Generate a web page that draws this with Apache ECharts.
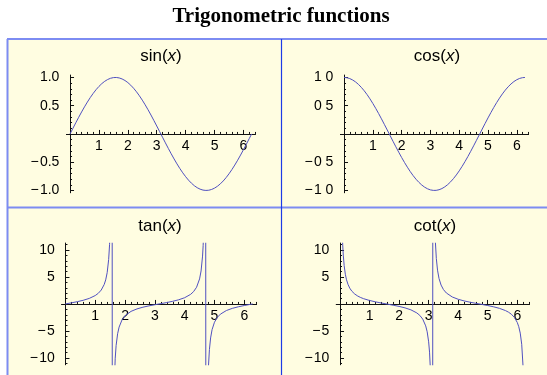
<!DOCTYPE html>
<html>
<head>
<meta charset="utf-8">
<script src="https://cdn.jsdelivr.net/npm/echarts@6/dist/echarts.min.js"></script>
<style>
html,body{margin:0;padding:0;background:#fff;}
#main{width:547px;height:375px;}
</style>
</head>
<body>
<div id="main"></div>
<script>
// sin / cos sampled on 0..2pi
var trigX = [0,0.1,0.2,0.3,0.4,0.5,0.6,0.7,0.8,0.9,1.0,1.1,1.2,1.3,1.4,1.5,1.6,1.7,1.8,1.9,2.0,2.1,2.2,2.3,2.4,2.5,2.6,2.7,2.8,2.9,3.0,3.1,3.2,3.3,3.4,3.5,3.6,3.7,3.8,3.9,4.0,4.1,4.2,4.3,4.4,4.5,4.6,4.7,4.8,4.9,5.0,5.1,5.2,5.3,5.4,5.5,5.6,5.7,5.8,5.9,6.0,6.1,6.2,6.2832];
var sinY = [0,0.0998,0.1987,0.2955,0.3894,0.4794,0.5646,0.6442,0.7174,0.7833,0.8415,0.8912,0.9320,0.9636,0.9854,0.9975,0.9996,0.9917,0.9738,0.9463,0.9093,0.8632,0.8085,0.7457,0.6755,0.5985,0.5155,0.4274,0.3350,0.2392,0.1411,0.0416,-0.0584,-0.1577,-0.2555,-0.3508,-0.4425,-0.5298,-0.6119,-0.6878,-0.7568,-0.8183,-0.8716,-0.9162,-0.9516,-0.9775,-0.9937,-0.9999,-0.9962,-0.9825,-0.9589,-0.9258,-0.8835,-0.8323,-0.7728,-0.7055,-0.6313,-0.5507,-0.4646,-0.3739,-0.2794,-0.1822,-0.0831,0];
var cosY = [1,0.9950,0.9801,0.9553,0.9211,0.8776,0.8253,0.7648,0.6967,0.6216,0.5403,0.4536,0.3624,0.2675,0.1700,0.0707,-0.0292,-0.1288,-0.2272,-0.3233,-0.4161,-0.5048,-0.5885,-0.6663,-0.7374,-0.8011,-0.8569,-0.9041,-0.9422,-0.9710,-0.9900,-0.9991,-0.9983,-0.9875,-0.9668,-0.9365,-0.8968,-0.8481,-0.7910,-0.7259,-0.6536,-0.5748,-0.4903,-0.4008,-0.3073,-0.2108,-0.1122,-0.0124,0.0875,0.1865,0.2837,0.3780,0.4685,0.5544,0.6347,0.7087,0.7756,0.8347,0.8855,0.9275,0.9602,0.9833,0.9965,1];

// tan, denser near the poles
var tanX = [0,0.2,0.4,0.6,0.8,1.0,1.1,1.2,1.3,1.35,1.4,1.45,1.48,1.5,1.52,1.54,1.56,1.58,1.60,1.62,1.64,1.67,1.7,1.75,1.8,1.9,2.0,2.2,2.4,2.6,2.8,3.0,3.2,3.4,3.6,3.8,4.0,4.2,4.3,4.4,4.5,4.55,4.6,4.62,4.64,4.66,4.68,4.70,4.72,4.74,4.76,4.78,4.80,4.83,4.87,4.92,5.0,5.1,5.2,5.4,5.6,5.8,6.0,6.2,6.2832];
var tanY = [0,0.2027,0.4228,0.6841,1.0296,1.5574,1.9648,2.5722,3.6021,4.4552,5.7979,8.2381,10.983,14.101,19.670,32.461,92.621,-108.65,-34.233,-20.307,-14.427,-10.048,-7.6966,-5.5204,-4.2863,-2.9271,-2.1850,-1.3738,-0.9160,-0.6016,-0.3555,-0.1425,0.0585,0.2643,0.4935,0.7736,1.1578,1.7777,2.2913,3.0963,4.6373,6.104,8.8604,10.793,13.791,19.072,30.867,80.73,-131.39,-36.21,-20.987,-14.768,-11.385,-8.4634,-6.2921,-4.747,-3.3805,-2.4494,-1.8856,-1.2175,-0.8139,-0.5247,-0.2910,-0.0834,0];

// cot
var cotX = [0.02,0.05,0.07,0.09,0.11,0.14,0.18,0.22,0.27,0.33,0.4,0.5,0.6,0.7,0.8,1.0,1.2,1.4,1.6,1.8,2.0,2.2,2.4,2.6,2.7,2.8,2.9,2.95,3.0,3.03,3.06,3.08,3.10,3.12,3.13,3.15,3.17,3.19,3.21,3.23,3.26,3.30,3.35,3.42,3.5,3.6,3.8,4.0,4.2,4.4,4.6,4.8,5.0,5.2,5.4,5.6,5.7,5.8,5.9,6.0,6.05,6.1,6.15,6.2,6.25];
var cotY = [49.99,19.98,14.26,11.08,9.05,7.10,5.50,4.47,3.63,2.92,2.365,1.830,1.462,1.187,0.971,0.642,0.389,0.172,-0.0292,-0.2333,-0.4577,-0.7279,-1.0917,-1.6622,-2.1154,-2.8127,-4.0584,-5.1554,-7.0153,-8.9241,-12.229,-16.216,-24.030,-46.31,-86.28,118.95,35.19,20.642,14.596,11.282,8.406,6.260,4.729,3.4986,2.6696,2.0263,1.2927,0.8637,0.5625,0.3230,0.1129,-0.0878,-0.2958,-0.5303,-0.8213,-1.2287,-1.5158,-1.9060,-2.4807,-3.4365,-4.2104,-5.3978,-7.4639,-11.994,-30.12];

// ticks and labels
var xMajor = [1,2,3,4,5,6];
var xLabels = ['1','2','3','4','5','6'];
var unitMajor = [-1,-0.5,0.5,1];
var sinLabels = ['\u2212\u200a1.0','\u2212\u200a0.5','0.5','1.0'];
var cosLabels = ['\u2212\u200a1 0','\u2212\u200a0 5','0 5','1 0'];
var bigMajor = [-10,-5,5,10];
var bigLabels = ['\u2212\u200a10','\u2212\u200a5','5','10'];

function steps(from, to, step) {
    var out = [];
    for (var v = from; v <= to + 1e-9; v += step) {
        var r = Math.round(v * 1000) / 1000;
        if (Math.abs(r) > 1e-9) out.push(r);
    }
    return out;
}
var xMinor = steps(0.2, 6.4, 0.2);
var unitMinor = steps(-1, 1, 0.1);
var bigMinor = steps(-11, 11, 1);

var xMin = -0.126, xMax = 6.41;
var curveColor = '#5050c0';
var font = 'Liberation Sans';

var panels = [
    {name: 'sin', xs: trigX, ys: sinY, yMin: -1.04, yMax: 1.04, minor: unitMinor, major: unitMajor, labels: sinLabels,
     grid: {left: 66.4, top: 75.2, width: 188.9, height: 117.5}, title: [161, 56]},
    {name: 'cos', xs: trigX, ys: cosY, yMin: -1.04, yMax: 1.04, minor: unitMinor, major: unitMajor, labels: cosLabels,
     grid: {left: 340.4, top: 75.2, width: 188.2, height: 117.5}, title: [437, 56]},
    {name: 'tan', xs: tanX, ys: tanY, yMin: -11.25, yMax: 11.25, minor: bigMinor, major: bigMajor, labels: bigLabels,
     grid: {left: 61.7, top: 243.2, width: 194.8, height: 121.5}, title: [160, 226]},
    {name: 'cot', xs: cotX, ys: cotY, yMin: -11.25, yMax: 11.25, minor: bigMinor, major: bigMajor, labels: bigLabels,
     grid: {left: 336.3, top: 243.2, width: 193.1, height: 121.5}, title: [435, 226]}
];

var grids = [], xAxes = [], yAxes = [], series = [];
var titles = [{
    text: 'Trigonometric functions',
    left: 281, top: 17, padding: 0,
    textAlign: 'center', textVerticalAlign: 'middle',
    textStyle: {fontFamily: 'Liberation Serif', fontWeight: 'bold', fontSize: 21, color: '#000'}
}];

panels.forEach(function(p, i){
    grids.push({left: p.grid.left, top: p.grid.top, width: p.grid.width, height: p.grid.height, outerBoundsMode: 'none', containLabel: false});

    // the x axis sits where y = 0
    var xOff = -(0 - p.yMin) / (p.yMax - p.yMin) * p.grid.height;

    // minor ticks
    xAxes.push({
        gridIndex: i, type: 'value', min: xMin, max: xMax, position: 'bottom', offset: xOff,
        axisLine: {onZero: false, lineStyle: {color: '#111', width: 1}},
        axisTick: {inside: true, length: 2, customValues: xMinor, lineStyle: {color: '#111'}},
        axisLabel: {show: false}, splitLine: {show: false}
    });
    // major ticks + labels
    xAxes.push({
        gridIndex: i, type: 'value', min: xMin, max: xMax, position: 'bottom', offset: xOff,
        axisLine: {onZero: false, lineStyle: {color: '#111', width: 1}},
        axisTick: {inside: true, length: 4, customValues: xMajor, lineStyle: {color: '#111'}},
        axisLabel: {customValues: xMajor, margin: 5, fontFamily: font, fontSize: 14, color: '#000',
            formatter: function(v){ return xLabels[xMajor.indexOf(v)] || ''; }},
        splitLine: {show: false}
    });
    yAxes.push({
        gridIndex: i, type: 'value', min: p.yMin, max: p.yMax, position: 'left',
        axisLine: {onZero: true, lineStyle: {color: '#111', width: 1}},
        axisTick: {inside: true, length: 2, customValues: p.minor, lineStyle: {color: '#111'}},
        axisLabel: {show: false}, splitLine: {show: false}
    });
    yAxes.push({
        gridIndex: i, type: 'value', min: p.yMin, max: p.yMax, position: 'left',
        axisLine: {onZero: true, lineStyle: {color: '#111', width: 1}},
        axisTick: {inside: true, length: 4, customValues: p.major, lineStyle: {color: '#111'}},
        axisLabel: {customValues: p.major, margin: 7, fontFamily: font, fontSize: 14, color: '#000',
            formatter: function(v){ return p.labels[p.major.indexOf(v)] || ''; }},
        splitLine: {show: false}
    });

    series.push({
        name: p.name, type: 'line',
        xAxisIndex: 2 * i + 1, yAxisIndex: 2 * i + 1,
        data: p.xs.map(function(x, k){ return [x, p.ys[k]]; }),
        showSymbol: false, clip: true, smooth: false,
        lineStyle: {color: curveColor, width: 1},
        silent: true
    });

    titles.push({
        text: '{a|' + p.name + '(}{b|x}{a|)}',
        left: p.title[0], top: p.title[1], padding: 0,
        textAlign: 'center', textVerticalAlign: 'middle',
        textStyle: {
            fontWeight: 'normal',
            rich: {
                a: {fontFamily: font, fontSize: 17, fontWeight: 'normal', color: '#000'},
                b: {fontFamily: font, fontSize: 17, fontWeight: 'normal', fontStyle: 'italic', color: '#000'}
            }
        }
    });
});

var myChart = echarts.init(document.getElementById('main'));
var option = {
    backgroundColor: '#fff',
    animation: false,
    title: titles,
    graphic: [
        {type: 'rect', shape: {x: 7, y: 39, width: 548, height: 336}, style: {fill: '#fffde1'}, z: -10, silent: true},
        {type: 'line', shape: {x1: 7, y1: 39, x2: 555, y2: 39}, style: {stroke: '#7d8cf2', lineWidth: 2}, silent: true},
        {type: 'line', shape: {x1: 7.5, y1: 39, x2: 7.5, y2: 375}, style: {stroke: '#7d8cf2', lineWidth: 2}, silent: true},
        {type: 'line', shape: {x1: 7, y1: 207.5, x2: 555, y2: 207.5}, style: {stroke: '#7d8cf2', lineWidth: 2}, silent: true},
        {type: 'line', shape: {x1: 281.5, y1: 39, x2: 281.5, y2: 375}, style: {stroke: '#1d3be6', lineWidth: 1.2}, silent: true}
    ],
    grid: grids,
    xAxis: xAxes,
    yAxis: yAxes,
    series: series
};
myChart.setOption(option);
</script>
</body>
</html>
